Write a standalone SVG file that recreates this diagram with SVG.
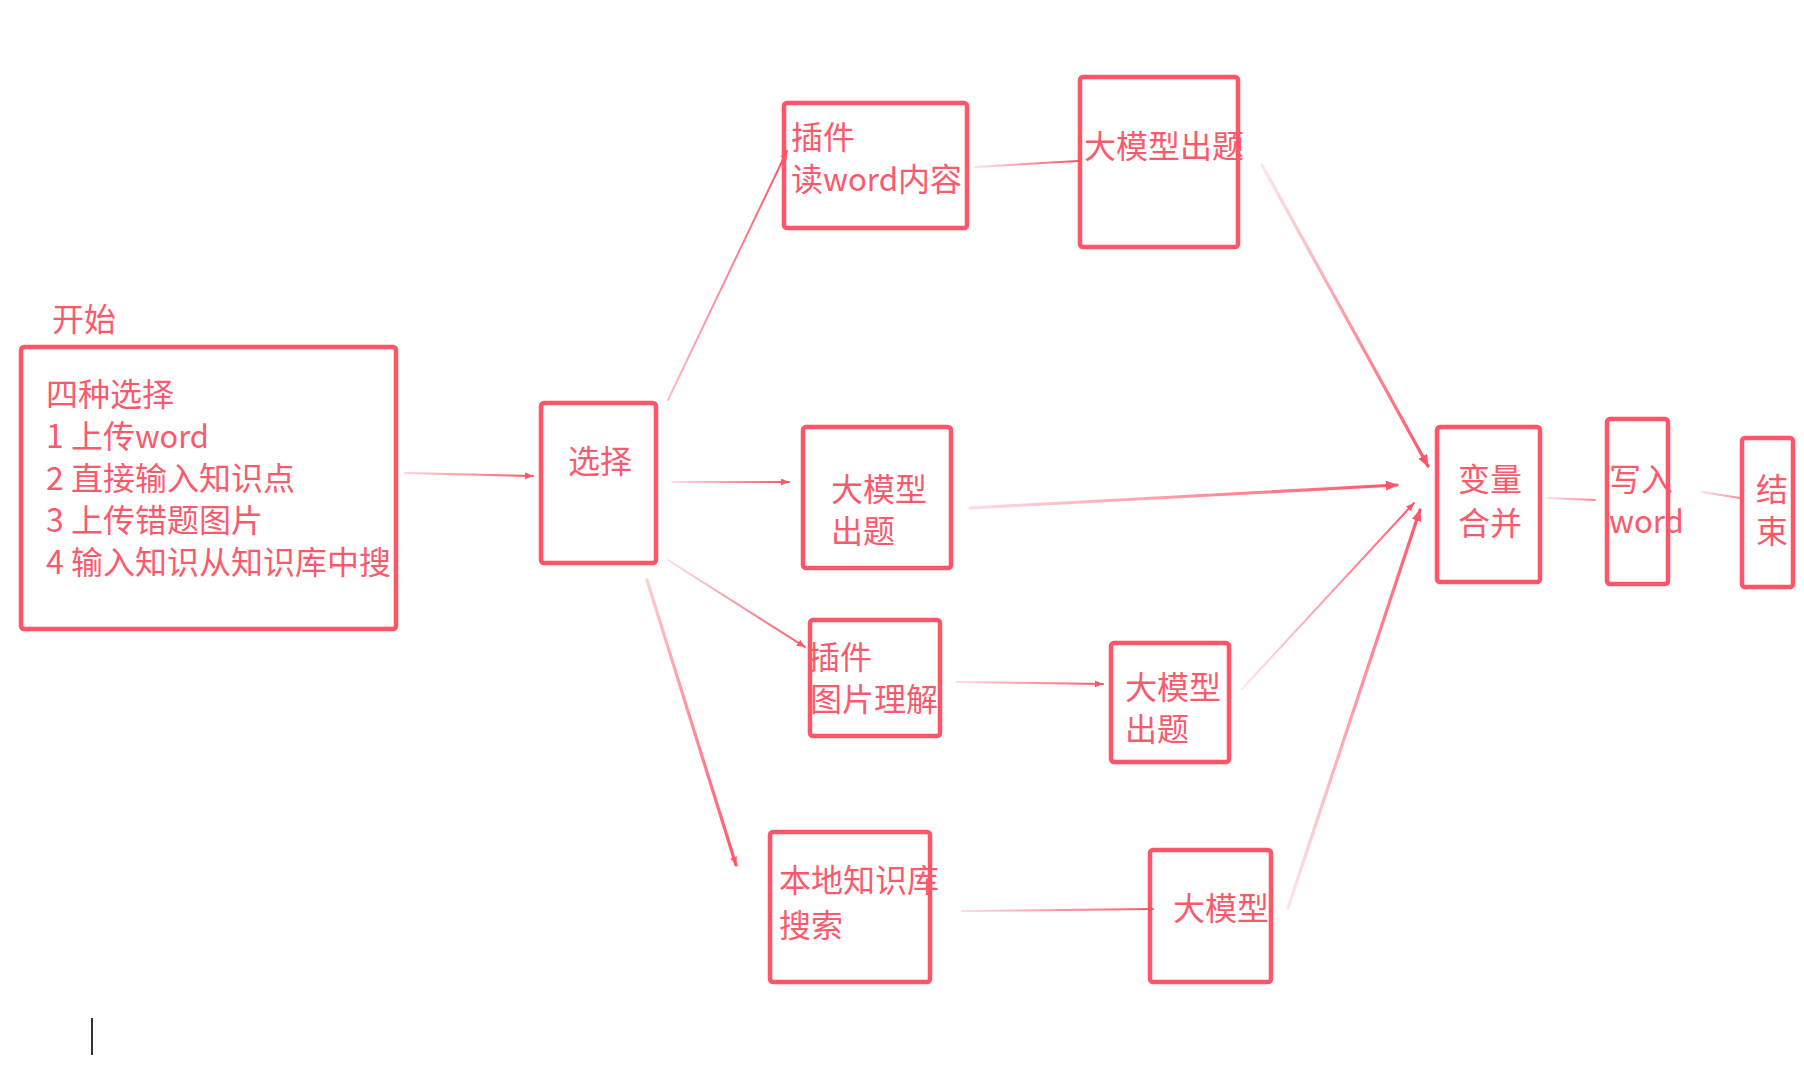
<svg xmlns="http://www.w3.org/2000/svg" width="1804" height="1081" viewBox="0 0 1804 1081">
<style>
.box{fill:none;stroke:#ff5568;stroke-width:4.5;stroke-linejoin:round}
.t{font-family:"Microsoft YaHei","Noto Sans CJK SC",sans-serif;font-size:32px;fill:#fb5a6d}
.c{fill:none;stroke-width:2;stroke-linecap:round}
.k{stroke-width:3.2}
</style>
<defs>
<marker id="ah" markerUnits="userSpaceOnUse" markerWidth="14" markerHeight="12" refX="11" refY="5" orient="auto"><path d="M0,0 L12,5 L0,10 z" fill="#ff5568"/></marker>
<marker id="as" markerUnits="userSpaceOnUse" markerWidth="10" markerHeight="10" refX="8" refY="3.5" orient="auto"><path d="M0,0 L8,3.5 L0,7 z" fill="#ff5568"/></marker>
<linearGradient id="g1" gradientUnits="userSpaceOnUse" x1="405" y1="473" x2="533" y2="476"><stop offset="0" stop-color="#ff5568" stop-opacity="0.25"/><stop offset="1" stop-color="#ff5568"/></linearGradient>
<linearGradient id="g2" gradientUnits="userSpaceOnUse" x1="668" y1="400" x2="787" y2="151"><stop offset="0" stop-color="#ff5568" stop-opacity="0.4"/><stop offset="1" stop-color="#ff5568"/></linearGradient>
<linearGradient id="g3" gradientUnits="userSpaceOnUse" x1="672" y1="482" x2="789" y2="482"><stop offset="0" stop-color="#ff5568" stop-opacity="0.2"/><stop offset="1" stop-color="#ff5568"/></linearGradient>
<linearGradient id="g4" gradientUnits="userSpaceOnUse" x1="668" y1="560" x2="805" y2="647"><stop offset="0" stop-color="#ff5568" stop-opacity="0.2"/><stop offset="1" stop-color="#ff5568"/></linearGradient>
<linearGradient id="g5" gradientUnits="userSpaceOnUse" x1="647" y1="580" x2="736" y2="865"><stop offset="0" stop-color="#ff5568" stop-opacity="0.3"/><stop offset="1" stop-color="#ff5568"/></linearGradient>
<linearGradient id="g6" gradientUnits="userSpaceOnUse" x1="975" y1="167" x2="1078" y2="161"><stop offset="0" stop-color="#ff5568" stop-opacity="0.2"/><stop offset="1" stop-color="#ff5568"/></linearGradient>
<linearGradient id="g7" gradientUnits="userSpaceOnUse" x1="957" y1="682" x2="1103" y2="684"><stop offset="0" stop-color="#ff5568" stop-opacity="0.2"/><stop offset="1" stop-color="#ff5568"/></linearGradient>
<linearGradient id="g8" gradientUnits="userSpaceOnUse" x1="962" y1="911" x2="1153" y2="909"><stop offset="0" stop-color="#ff5568" stop-opacity="0.2"/><stop offset="1" stop-color="#ff5568"/></linearGradient>
<linearGradient id="g9" gradientUnits="userSpaceOnUse" x1="1262" y1="165" x2="1428" y2="466"><stop offset="0" stop-color="#ff5568" stop-opacity="0.15"/><stop offset="1" stop-color="#ff5568"/></linearGradient>
<linearGradient id="g10" gradientUnits="userSpaceOnUse" x1="970" y1="508" x2="1397" y2="485"><stop offset="0" stop-color="#ff5568" stop-opacity="0.2"/><stop offset="1" stop-color="#ff5568"/></linearGradient>
<linearGradient id="g11" gradientUnits="userSpaceOnUse" x1="1242" y1="689" x2="1414" y2="503"><stop offset="0" stop-color="#ff5568" stop-opacity="0.15"/><stop offset="1" stop-color="#ff5568"/></linearGradient>
<linearGradient id="g12" gradientUnits="userSpaceOnUse" x1="1288" y1="908" x2="1420" y2="510"><stop offset="0" stop-color="#ff5568" stop-opacity="0.15"/><stop offset="1" stop-color="#ff5568"/></linearGradient>
<linearGradient id="g13" gradientUnits="userSpaceOnUse" x1="1547" y1="498" x2="1595" y2="500"><stop offset="0" stop-color="#ff5568" stop-opacity="0.2"/><stop offset="1" stop-color="#ff5568" stop-opacity="0.7"/></linearGradient>
<linearGradient id="g14" gradientUnits="userSpaceOnUse" x1="1702" y1="492" x2="1740" y2="498"><stop offset="0" stop-color="#ff5568" stop-opacity="0.2"/><stop offset="1" stop-color="#ff5568" stop-opacity="0.7"/></linearGradient>
</defs>
<rect width="1804" height="1081" fill="#ffffff"/>

<g id="connectors">
<line class="c" x1="405" y1="473" x2="533" y2="476" stroke="url(#g1)" stroke-width="1.5" marker-end="url(#as)"/>
<line class="c" x1="668" y1="400" x2="787" y2="151" stroke="url(#g2)" stroke-width="3" marker-end="url(#as)"/>
<line class="c" x1="672" y1="482" x2="789" y2="482" stroke="url(#g3)" stroke-width="1.5" marker-end="url(#as)"/>
<line class="c" x1="668" y1="560" x2="805" y2="647" stroke="url(#g4)" marker-end="url(#as)"/>
<line class="c k" x1="647" y1="580" x2="736" y2="865" stroke="url(#g5)" marker-end="url(#as)"/>
<line class="c" x1="975" y1="167" x2="1078" y2="161" stroke="url(#g6)"/>
<line class="c" x1="957" y1="682" x2="1103" y2="684" stroke="url(#g7)" marker-end="url(#as)"/>
<line class="c" x1="962" y1="911" x2="1153" y2="909" stroke="url(#g8)" stroke-width="2.5"/>
<line class="c k" x1="1262" y1="165" x2="1428" y2="466" stroke="url(#g9)" marker-end="url(#ah)"/>
<line class="c k" x1="970" y1="508" x2="1397" y2="485" stroke="url(#g10)" stroke-width="4" marker-end="url(#ah)"/>
<line class="c" x1="1242" y1="689" x2="1414" y2="503" stroke="url(#g11)" stroke-width="2.5" marker-end="url(#as)"/>
<line class="c k" x1="1288" y1="908" x2="1420" y2="510" stroke="url(#g12)" stroke-width="3.5" marker-end="url(#ah)"/>
<line class="c" x1="1547" y1="498" x2="1595" y2="500" stroke="url(#g13)" stroke-width="1.5"/>
<line class="c" x1="1702" y1="492" x2="1740" y2="498" stroke="url(#g14)" stroke-width="1.5"/>
</g>

<g id="start-label"><text class="t" x="52" y="331">开始</text></g>

<g id="n-start">
<rect class="box" x="21" y="347" width="375" height="282" rx="3"/>
<text class="t" x="46" y="406">四种选择<tspan x="46" dy="42">1 上传</tspan><tspan textLength="74" lengthAdjust="spacingAndGlyphs">word</tspan><tspan x="46" dy="42">2 直接输入知识点</tspan><tspan x="46" dy="42">3 上传错题图片</tspan><tspan x="46" dy="42">4 输入知识从知识库中搜</tspan></text>
</g>

<g id="n-choose">
<rect class="box" x="541" y="403" width="115" height="160" rx="3"/>
<text class="t" x="568" y="473">选择</text>
</g>

<g id="n-plugin-word">
<rect class="box" x="784" y="103" width="183" height="125" rx="3"/>
<text class="t" x="791" y="149">插件<tspan x="791" dy="42">读</tspan><tspan textLength="75" lengthAdjust="spacingAndGlyphs">word</tspan><tspan>内容</tspan></text>
</g>

<g id="n-llm-top">
<rect class="box" x="1080" y="77" width="158" height="170" rx="3"/>
<text class="t" x="1084" y="158">大模型出题</text>
</g>

<g id="n-llm-mid">
<rect class="box" x="803" y="427" width="148" height="141" rx="3"/>
<text class="t" x="831" y="501">大模型<tspan x="831" dy="42">出题</tspan></text>
</g>

<g id="n-plugin-img">
<rect class="box" x="810" y="620" width="130" height="116" rx="3"/>
<text class="t" x="808" y="669">插件<tspan x="810" dy="42">图片理解</tspan></text>
</g>

<g id="n-llm-low">
<rect class="box" x="1111" y="643" width="118" height="119" rx="3"/>
<text class="t" x="1125" y="699">大模型<tspan x="1125" dy="42">出题</tspan></text>
</g>

<g id="n-local">
<rect class="box" x="770" y="832" width="160" height="150" rx="3"/>
<text class="t" x="779" y="892">本地知识库<tspan x="779" dy="45">搜索</tspan></text>
</g>

<g id="n-llm-bottom">
<rect class="box" x="1150" y="850" width="121" height="132" rx="3"/>
<text class="t" x="1173" y="920">大模型</text>
</g>

<g id="n-merge">
<rect class="box" x="1437" y="427" width="103" height="155" rx="3"/>
<text class="t" x="1458" y="491">变量<tspan x="1458" dy="44">合并</tspan></text>
</g>

<g id="n-write">
<rect class="box" x="1607" y="419" width="61" height="165" rx="3"/>
<text class="t" x="1609" y="491">写入<tspan x="1609" dy="42" textLength="75" lengthAdjust="spacingAndGlyphs">word</tspan></text>
</g>

<g id="n-end">
<rect class="box" x="1742" y="438" width="51" height="149" rx="3"/>
<text class="t" x="1756" y="501">结<tspan x="1756" dy="42">束</tspan></text>
</g>

<line x1="92" y1="1018" x2="92" y2="1055" stroke="#333333" stroke-width="2"/>
</svg>
